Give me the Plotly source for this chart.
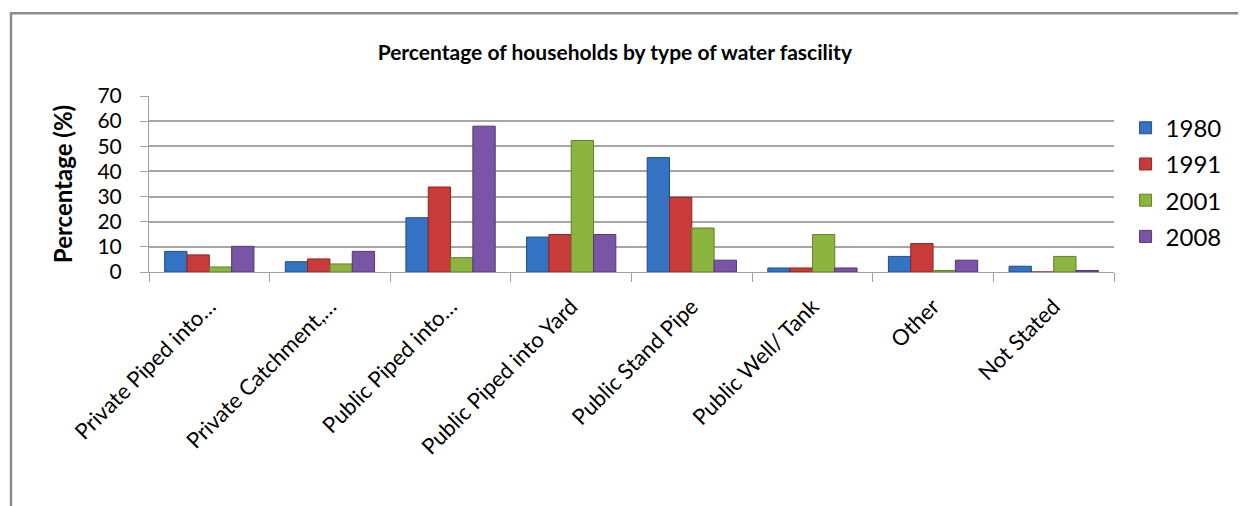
import plotly.graph_objects as go

# categories (x axis)
categories = ['Private Piped into…', 'Private Catchment,…', 'Public Piped into…',
              'Public Piped into Yard', 'Public Stand Pipe', 'Public Well/ Tank',
              'Other', 'Not Stated']

# percentage of households per year
y1980 = [8.2, 4.1, 21.6, 13.9, 45.5, 1.6, 6.2, 2.3]
y1991 = [6.8, 5.2, 33.8, 14.9, 29.7, 1.6, 11.3, 0.0]
y2001 = [2.0, 3.2, 5.7, 52.3, 17.5, 14.9, 0.6, 6.2]
y2008 = [10.2, 8.2, 58.0, 14.9, 4.7, 1.6, 4.7, 0.6]

years = ['1980', '1991', '2001', '2008']
series = [y1980, y1991, y2001, y2008]
colors = ['#3472c4', '#c93b38', '#8db43f', '#7a55a6']
edges = ['#1f4f8c', '#8e2522', '#62822a', '#523774']

font = 'Lato, Open Sans, sans-serif'

fig = go.Figure()
for yr, vals, c, e in zip(years, series, colors, edges):
    fig.add_trace(go.Bar(
        x=categories, y=vals, name=yr, legendgroup=yr,
        marker=dict(color=c, line=dict(color=e, width=1)),
    ))

# the page body adds an 8px margin, so margins are reduced by 8 on top/left
fig.update_layout(
    width=1246, height=506,
    paper_bgcolor='white', plot_bgcolor='white',
    margin=dict(l=141, r=140, t=88, b=242),
    barmode='group', bargap=0.26, bargroupgap=0,
    font=dict(family=font, color='black'),
    title=dict(text='<b>Percentage of households by type of water fascility</b>',
               x=0.487, xanchor='center', y=0.911, yanchor='middle',
               font=dict(size=21, family=font)),
    legend=dict(x=1.012, xanchor='left', y=0.945, yanchor='top',
                font=dict(size=24), tracegroupgap=2,
                itemwidth=30, bgcolor='rgba(0,0,0,0)'),
    xaxis=dict(tickangle=-45, tickfont=dict(size=22), automargin=False,
               ticklabelstandoff=12,
               showline=True, linecolor='#a0a0a0', linewidth=1,
               ticks='outside', tickson='boundaries', ticklen=9, tickcolor='#a0a0a0'),
    yaxis=dict(range=[0, 70], dtick=10, tickfont=dict(size=21), automargin=False,
               ticklabelstandoff=14,
               showgrid=True, gridcolor='#a6a6a6', gridwidth=1.5,
               showline=True, linecolor='#a0a0a0', linewidth=1,
               ticks='outside', ticklen=8, tickcolor='#a6a6a6',
               zeroline=False,
               title=dict(text='<b>Percentage (%)</b>', font=dict(size=24), standoff=18)),
    shapes=[dict(type='rect', xref='paper', yref='paper',
                 x0=-0.143, x1=1.2, y0=-2, y1=1.47,
                 line=dict(color='#8c8c8c', width=2.5), fillcolor='rgba(0,0,0,0)',
                 layer='below')],
)

fig.write_html('out.html')
